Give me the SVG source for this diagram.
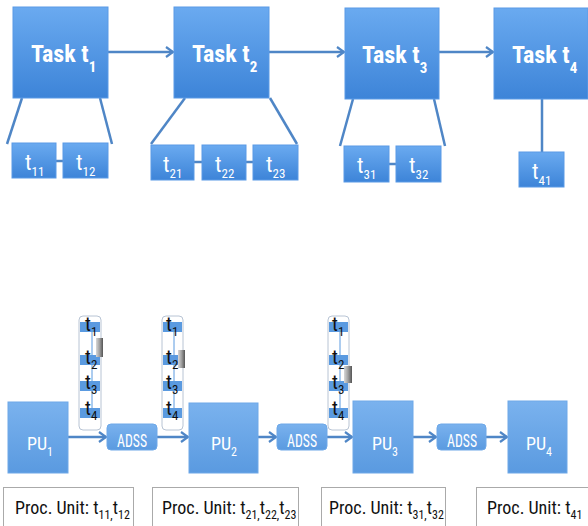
<svg xmlns="http://www.w3.org/2000/svg" width="588" height="526" viewBox="0 0 588 526">
<defs>
<linearGradient id="gTask" x1="0" y1="0" x2="0" y2="1">
<stop offset="0" stop-color="#6aaaf0"/>
<stop offset="1" stop-color="#3d84d8"/>
</linearGradient>
<linearGradient id="gPU" x1="0" y1="0" x2="0" y2="1">
<stop offset="0" stop-color="#7ab2ee"/>
<stop offset="1" stop-color="#5a9ae0"/>
</linearGradient>
<linearGradient id="gGray" x1="0" y1="0" x2="1" y2="0">
<stop offset="0" stop-color="#d8d8d8"/>
<stop offset="0.5" stop-color="#a0a0a0"/>
<stop offset="1" stop-color="#555"/>
</linearGradient>
<marker id="ah" markerWidth="10" markerHeight="12" refX="8" refY="6" orient="auto" markerUnits="userSpaceOnUse">
<path d="M1,1 L8,6 L1,11" fill="none" stroke="#4f86c6" stroke-width="2.2"/>
</marker>
<style>
.task{fill:url(#gTask);stroke:#5a9ae6;stroke-width:1}
.sub{fill:url(#gTask);stroke:#5a9ae6;stroke-width:1}
.pu{fill:url(#gPU);stroke:#6ea8e8;stroke-width:1}
.adss{fill:url(#gPU);stroke:#6ea8e8;stroke-width:1}
.ln{stroke:#4f86c6;stroke-width:2.5;fill:none}
.arr{stroke:#4f86c6;stroke-width:2.5;fill:none;marker-end:url(#ah)}
.tl{font-family:"Liberation Sans Narrow","Roboto Condensed","Liberation Sans",sans-serif;fill:#fff;font-weight:bold}
.wl{font-family:"Liberation Sans Narrow","Roboto Condensed","Liberation Sans",sans-serif;fill:#fff}
.bl{font-family:"Liberation Sans Narrow","Roboto Condensed","Liberation Sans",sans-serif;fill:#111}
.box{fill:#fff;stroke:#aaa;stroke-width:1}
.q{fill:#fff;stroke:#b8c4d4;stroke-width:1}
.qb{fill:#5a9ae0}
</style>
</defs>

<g id="connectors">
<line class="arr" x1="108" y1="52" x2="173" y2="52"/>
<line class="arr" x1="269" y1="52" x2="344" y2="52"/>
<line class="arr" x1="439" y1="52" x2="493" y2="52"/>
<line class="ln" x1="22" y1="98" x2="7" y2="144"/>
<line class="ln" x1="100" y1="98" x2="112" y2="144"/>
<line class="ln" x1="56" y1="161" x2="63" y2="161"/>
<line class="ln" x1="185" y1="98" x2="151" y2="144"/>
<line class="ln" x1="270" y1="98" x2="297" y2="144"/>
<line class="ln" x1="194" y1="162" x2="202" y2="162"/>
<line class="ln" x1="246" y1="162" x2="253" y2="162"/>
<line class="ln" x1="353" y1="99" x2="340" y2="146"/>
<line class="ln" x1="434" y1="99" x2="445" y2="146"/>
<line class="ln" x1="389" y1="164" x2="396" y2="164"/>
<line class="ln" x1="542" y1="99" x2="542" y2="152"/>
<line class="arr" x1="68" y1="437" x2="106" y2="437"/>
<line class="arr" x1="157" y1="437" x2="188" y2="437"/>
<line class="arr" x1="258" y1="437" x2="276" y2="437"/>
<line class="arr" x1="327" y1="437" x2="352" y2="437"/>
<line class="arr" x1="413" y1="437" x2="436" y2="437"/>
<line class="arr" x1="486" y1="437" x2="507" y2="437"/>
</g>

<g id="task1"><rect class="task" x="13" y="7" width="95" height="91"/>
<text class="tl" x="31" y="62" font-size="24">Task t<tspan dy="10" font-size="15">1</tspan></text></g>
<g id="task2"><rect class="task" x="174" y="7" width="95" height="91"/>
<text class="tl" x="192" y="62" font-size="24">Task t<tspan dy="10" font-size="15">2</tspan></text></g>
<g id="task3"><rect class="task" x="345" y="8" width="94" height="91"/>
<text class="tl" x="362" y="63" font-size="24">Task t<tspan dy="10" font-size="15">3</tspan></text></g>
<g id="task4"><rect class="task" x="494" y="8" width="94" height="91"/>
<text class="tl" x="512" y="63" font-size="24">Task t<tspan dy="10" font-size="15">4</tspan></text></g>

<g id="t11"><rect class="sub" x="12" y="143" width="44" height="35"/><text class="wl" x="25" y="170" font-size="22">t<tspan dy="6" font-size="13">11</tspan></text></g>
<g id="t12"><rect class="sub" x="63" y="143" width="45" height="35"/><text class="wl" x="76" y="170" font-size="22">t<tspan dy="6" font-size="13">12</tspan></text></g>
<g id="t21"><rect class="sub" x="151" y="145" width="43" height="35"/><text class="wl" x="163" y="172" font-size="22">t<tspan dy="6" font-size="13">21</tspan></text></g>
<g id="t22"><rect class="sub" x="202" y="145" width="44" height="35"/><text class="wl" x="215" y="172" font-size="22">t<tspan dy="6" font-size="13">22</tspan></text></g>
<g id="t23"><rect class="sub" x="253" y="145" width="45" height="35"/><text class="wl" x="266" y="172" font-size="22">t<tspan dy="6" font-size="13">23</tspan></text></g>
<g id="t31"><rect class="sub" x="344" y="146" width="45" height="36"/><text class="wl" x="357" y="173" font-size="22">t<tspan dy="6" font-size="13">31</tspan></text></g>
<g id="t32"><rect class="sub" x="396" y="146" width="45" height="36"/><text class="wl" x="409" y="173" font-size="22">t<tspan dy="6" font-size="13">32</tspan></text></g>
<g id="t41"><rect class="sub" x="519" y="152" width="45" height="35"/><text class="wl" x="532" y="179" font-size="22">t<tspan dy="6" font-size="13">41</tspan></text></g>

<g id="queue1">
<rect class="q" x="79" y="316" width="22" height="114" rx="4"/>
<rect class="qb" x="80" y="322" width="20" height="10"/>
<rect class="qb" x="80" y="355" width="20" height="10"/>
<rect class="qb" x="80" y="381" width="20" height="10"/>
<rect class="qb" x="80" y="408" width="20" height="10"/>
<line x1="92" y1="332" x2="92" y2="408" stroke="#5a9ae0" stroke-width="1"/>
<rect x="96" y="338" width="7" height="19" fill="url(#gGray)"/>
<text class="bl" x="85" y="331" font-size="20">t<tspan dy="5" font-size="13">1</tspan></text>
<text class="bl" x="85" y="364" font-size="20">t<tspan dy="5" font-size="13">2</tspan></text>
<text class="bl" x="85" y="389" font-size="20">t<tspan dy="5" font-size="13">3</tspan></text>
<text class="bl" x="85" y="415" font-size="20">t<tspan dy="5" font-size="13">4</tspan></text>
</g>
<g id="queue2">
<rect class="q" x="162" y="316" width="21" height="114" rx="4"/>
<rect class="qb" x="163" y="322" width="19" height="10"/>
<rect class="qb" x="163" y="355" width="19" height="10"/>
<rect class="qb" x="163" y="381" width="19" height="10"/>
<rect class="qb" x="163" y="408" width="19" height="10"/>
<line x1="174" y1="332" x2="174" y2="408" stroke="#5a9ae0" stroke-width="1"/>
<rect x="178" y="350" width="7" height="18" fill="url(#gGray)"/>
<text class="bl" x="166" y="331" font-size="20">t<tspan dy="5" font-size="13">1</tspan></text>
<text class="bl" x="166" y="364" font-size="20">t<tspan dy="5" font-size="13">2</tspan></text>
<text class="bl" x="166" y="389" font-size="20">t<tspan dy="5" font-size="13">3</tspan></text>
<text class="bl" x="166" y="415" font-size="20">t<tspan dy="5" font-size="13">4</tspan></text>
</g>
<g id="queue3">
<rect class="q" x="328" y="316" width="21" height="114" rx="4"/>
<rect class="qb" x="329" y="322" width="19" height="10"/>
<rect class="qb" x="329" y="355" width="19" height="10"/>
<rect class="qb" x="329" y="381" width="19" height="10"/>
<rect class="qb" x="329" y="408" width="19" height="10"/>
<line x1="340" y1="332" x2="340" y2="408" stroke="#5a9ae0" stroke-width="1"/>
<rect x="344" y="366" width="8" height="17" fill="url(#gGray)"/>
<text class="bl" x="332" y="331" font-size="20">t<tspan dy="5" font-size="13">1</tspan></text>
<text class="bl" x="332" y="364" font-size="20">t<tspan dy="5" font-size="13">2</tspan></text>
<text class="bl" x="332" y="389" font-size="20">t<tspan dy="5" font-size="13">3</tspan></text>
<text class="bl" x="332" y="415" font-size="20">t<tspan dy="5" font-size="13">4</tspan></text>
</g>

<g id="pu1"><rect class="pu" x="8" y="402" width="60" height="71"/><text class="wl" x="27" y="450" font-size="18">PU<tspan dy="6" font-size="12">1</tspan></text></g>
<g id="pu2"><rect class="pu" x="189" y="403" width="69" height="70"/><text class="wl" x="211" y="450" font-size="18">PU<tspan dy="6" font-size="12">2</tspan></text></g>
<g id="pu3"><rect class="pu" x="353" y="401" width="60" height="72"/><text class="wl" x="372" y="450" font-size="18">PU<tspan dy="6" font-size="12">3</tspan></text></g>
<g id="pu4"><rect class="pu" x="508" y="401" width="59" height="72"/><text class="wl" x="526" y="450" font-size="18">PU<tspan dy="6" font-size="12">4</tspan></text></g>

<g id="adss1"><rect class="adss" x="107" y="424" width="50" height="26" rx="4"/><text class="wl" x="117" y="447" font-size="18" textLength="30" lengthAdjust="spacingAndGlyphs">ADSS</text></g>
<g id="adss2"><rect class="adss" x="277" y="424" width="50" height="26" rx="4"/><text class="wl" x="287" y="447" font-size="18" textLength="30" lengthAdjust="spacingAndGlyphs">ADSS</text></g>
<g id="adss3"><rect class="adss" x="437" y="424" width="49" height="26" rx="4"/><text class="wl" x="447" y="447" font-size="18" textLength="30" lengthAdjust="spacingAndGlyphs">ADSS</text></g>

<g id="proc1"><rect class="box" x="3.5" y="487.5" width="130" height="45"/><text class="bl" x="15" y="514" font-size="18">Proc. Unit: t<tspan dy="5" font-size="12">11,</tspan><tspan dy="-5">t</tspan><tspan dy="5" font-size="12">12</tspan></text></g>
<g id="proc2"><rect class="box" x="152.5" y="487.5" width="146" height="45"/><text class="bl" x="162" y="514" font-size="18">Proc. Unit: t<tspan dy="5" font-size="12">21,</tspan><tspan dy="-5">t</tspan><tspan dy="5" font-size="12">22,</tspan><tspan dy="-5">t</tspan><tspan dy="5" font-size="12">23</tspan></text></g>
<g id="proc3"><rect class="box" x="321.5" y="487.5" width="124" height="45"/><text class="bl" x="329" y="514" font-size="18">Proc. Unit: t<tspan dy="5" font-size="12">31,</tspan><tspan dy="-5">t</tspan><tspan dy="5" font-size="12">32</tspan></text></g>
<g id="proc4"><rect class="box" x="476.5" y="487.5" width="120" height="45"/><text class="bl" x="487" y="514" font-size="18">Proc. Unit: t<tspan dy="5" font-size="12">41</tspan></text></g>
</svg>
